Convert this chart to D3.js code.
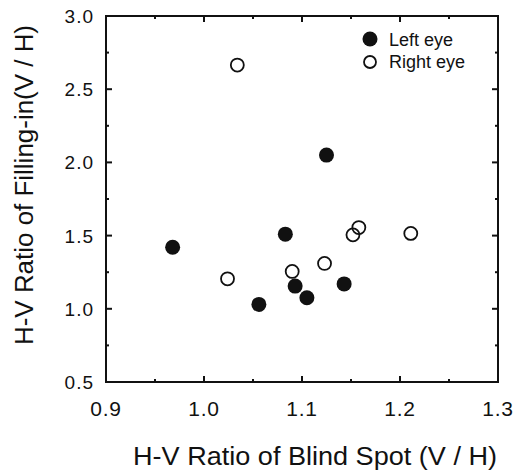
<!DOCTYPE html>
<html>
<head>
<meta charset="utf-8">
<script src="https://cdn.jsdelivr.net/npm/d3@7"></script>
<style>
    html, body { margin: 0; padding: 0; background: #fff; }
    svg { display: block; font-family: "Liberation Sans", Arial, sans-serif; }
</style>
</head>
<body>
<svg id="chart" width="514" height="472"></svg>
<script>
// H-V ratio of blind spot (x) vs H-V ratio of filling-in (y)
const leftEyeX = [1.125, 1.083, 0.968, 1.093, 1.105, 1.056, 1.143];
const leftEyeY = [2.05, 1.51, 1.42, 1.155, 1.075, 1.03, 1.17];
const rightEyeX = [1.034, 1.024, 1.090, 1.123, 1.152, 1.158, 1.211];
const rightEyeY = [2.665, 1.205, 1.255, 1.31, 1.505, 1.555, 1.515];

const xTicks = [0.9, 1.0, 1.1, 1.2, 1.3];
const yTicks = [0.5, 1.0, 1.5, 2.0, 2.5, 3.0];
const legendLabels = ['Left eye', 'Right eye'];

(function () {

    const svg = d3.select('#chart');
    const ink = '#111';

    const x = d3.scaleLinear().domain([0.9, 1.3]).range([106, 498]);
    const y = d3.scaleLinear().domain([0.5, 3.0]).range([382, 16]);

    const xMinor = d3.range(0.9, 1.3001, 0.05);
    const yMinor = d3.range(0.5, 3.0001, 0.25);

    // frame
    const frame = svg.append('g');

    frame.append('rect')
        .attr('x', x(0.9))
        .attr('y', y(3.0))
        .attr('width', x(1.3) - x(0.9))
        .attr('height', y(0.5) - y(3.0))
        .attr('fill', 'none')
        .attr('stroke', ink)
        .attr('stroke-width', 2);

    // inward ticks on all four sides, majors a little longer
    const tickLen = (isMajor) => isMajor ? 6 : 3;
    const isMajorX = (d) => Math.abs(d * 10 - Math.round(d * 10)) < 1e-6;
    const isMajorY = (d) => Math.abs(d * 2 - Math.round(d * 2)) < 1e-6;

    [
        { values: xMinor, major: isMajorX, x1: (d) => x(d), y1: () => y(0.5), dx: 0, dy: -1 },
        { values: xMinor, major: isMajorX, x1: (d) => x(d), y1: () => y(3.0), dx: 0, dy: 1 },
        { values: yMinor, major: isMajorY, x1: () => x(0.9), y1: (d) => y(d), dx: 1, dy: 0 },
        { values: yMinor, major: isMajorY, x1: () => x(1.3), y1: (d) => y(d), dx: -1, dy: 0 }
    ].forEach((side) => {
        frame.append('g')
            .selectAll('line')
            .data(side.values)
            .join('line')
            .attr('x1', side.x1)
            .attr('y1', side.y1)
            .attr('x2', (d) => side.x1(d) + side.dx * tickLen(side.major(d)))
            .attr('y2', (d) => side.y1(d) + side.dy * tickLen(side.major(d)))
            .attr('stroke', ink)
            .attr('stroke-width', 2);
    });

    // tick labels
    svg.append('g')
        .selectAll('text')
        .data(xTicks)
        .join('text')
        .attr('x', (d) => x(d))
        .attr('y', 416)
        .attr('text-anchor', 'middle')
        .attr('font-size', 21)
        .attr('letter-spacing', 0.8)
        .attr('fill', ink)
        .text((d) => d.toFixed(1));

    svg.append('g')
        .selectAll('text')
        .data(yTicks)
        .join('text')
        .attr('x', 94)
        .attr('y', (d) => y(d) + 7)
        .attr('text-anchor', 'end')
        .attr('font-size', 19)
        .attr('letter-spacing', 1)
        .attr('fill', ink)
        .text((d) => d.toFixed(1));

    // axis titles
    svg.append('text')
        .attr('x', 315)
        .attr('y', 465)
        .attr('text-anchor', 'middle')
        .attr('font-size', 26)
        .attr('textLength', 364)
        .attr('lengthAdjust', 'spacingAndGlyphs')
        .attr('fill', ink)
        .text('H-V Ratio of Blind Spot (V / H)');

    svg.append('text')
        .attr('transform', 'translate(33,185) rotate(-90)')
        .attr('text-anchor', 'middle')
        .attr('font-size', 26)
        .attr('textLength', 320)
        .attr('lengthAdjust', 'spacingAndGlyphs')
        .attr('fill', ink)
        .text('H-V Ratio of Filling-in(V / H)');

    // points
    const points = svg.append('g');

    points.selectAll('circle.right')
        .data(d3.zip(rightEyeX, rightEyeY))
        .join('circle')
        .attr('class', 'right')
        .attr('cx', (d) => x(d[0]))
        .attr('cy', (d) => y(d[1]))
        .attr('r', 6.5)
        .attr('fill', 'none')
        .attr('stroke', ink)
        .attr('stroke-width', 1.8);

    points.selectAll('circle.left')
        .data(d3.zip(leftEyeX, leftEyeY))
        .join('circle')
        .attr('class', 'left')
        .attr('cx', (d) => x(d[0]))
        .attr('cy', (d) => y(d[1]))
        .attr('r', 7.5)
        .attr('fill', ink);

    // legend
    const legend = svg.append('g').attr('transform', 'translate(370,39)');

    legend.append('circle')
        .attr('r', 7.5)
        .attr('fill', ink);

    legend.append('circle')
        .attr('cy', 23)
        .attr('r', 6)
        .attr('fill', 'none')
        .attr('stroke', ink)
        .attr('stroke-width', 1.8);

    legend.selectAll('text')
        .data(legendLabels)
        .join('text')
        .attr('x', 19)
        .attr('y', (d, i) => 7 + i * 22)
        .attr('font-size', 18)
        .attr('fill', ink)
        .text((d) => d);

})();
</script>
</body>
</html>
